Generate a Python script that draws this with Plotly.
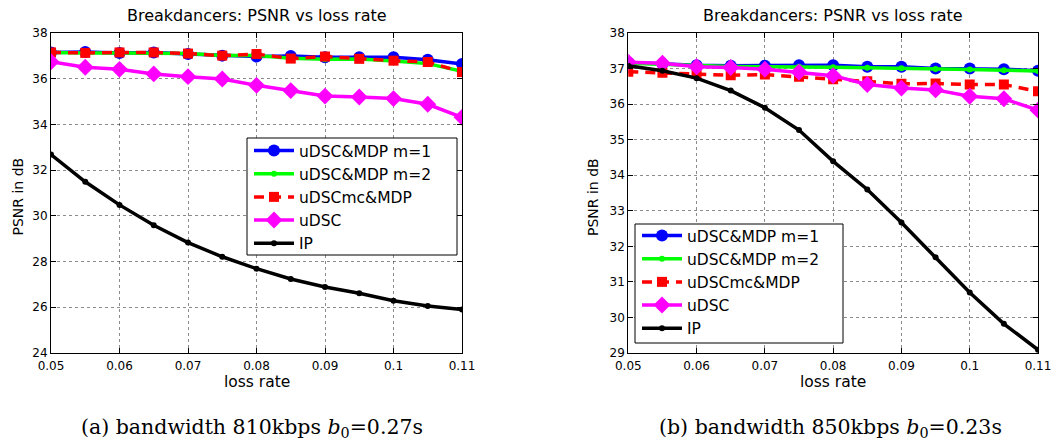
import plotly.graph_objects as go

W, H = 1053, 444

# loss-rate samples shared by both panels
loss_rate = [0.05, 0.055, 0.06, 0.065, 0.07, 0.075, 0.08, 0.085, 0.09, 0.095, 0.1, 0.105, 0.11]
x_tick_vals = [0.05, 0.06, 0.07, 0.08, 0.09, 0.1, 0.11]
x_tick_text = ["0.05", "0.06", "0.07", "0.08", "0.09", "0.1", "0.11"]

series_names = ["uDSC&MDP m=1", "uDSC&MDP m=2", "uDSCmc&MDP", "uDSC", "IP"]

# (a) bandwidth 810kbps, b0 = 0.27s
a_mdp_m1 = [37.15, 37.17, 37.12, 37.15, 37.08, 37.01, 36.97, 36.99, 36.94, 36.94, 36.94, 36.83, 36.64]
a_mdp_m2 = [37.15, 37.12, 37.13, 37.13, 37.10, 37.02, 37.02, 36.90, 36.85, 36.86, 36.78, 36.66, 36.33]
a_mc_mdp = [37.15, 37.13, 37.15, 37.15, 37.10, 37.01, 37.08, 36.88, 36.97, 36.87, 36.79, 36.73, 36.29]
a_udsc = [36.74, 36.50, 36.41, 36.21, 36.09, 35.99, 35.71, 35.48, 35.24, 35.20, 35.13, 34.88, 34.31]
a_ip = [32.68, 31.49, 30.48, 29.59, 28.83, 28.21, 27.69, 27.24, 26.89, 26.61, 26.29, 26.06, 25.90]

# (b) bandwidth 850kbps, b0 = 0.23s
b_mdp_m1 = [37.17, 37.13, 37.09, 37.08, 37.08, 37.09, 37.09, 37.05, 37.05, 37.00, 37.00, 36.98, 36.94]
b_mdp_m2 = [37.15, 37.12, 37.07, 37.06, 37.05, 37.05, 37.04, 37.02, 37.01, 36.99, 36.97, 36.95, 36.93]
b_mc_mdp = [36.91, 36.88, 36.85, 36.81, 36.83, 36.77, 36.70, 36.64, 36.57, 36.58, 36.55, 36.55, 36.36]
b_udsc = [37.18, 37.15, 37.05, 37.03, 36.98, 36.90, 36.80, 36.55, 36.45, 36.40, 36.22, 36.15, 35.83]
b_ip = [37.08, 36.94, 36.73, 36.38, 35.90, 35.27, 34.39, 33.60, 32.67, 31.69, 30.70, 29.82, 29.09]

a_y_ticks = [24, 26, 28, 30, 32, 34, 36, 38]
b_y_ticks = [29, 30, 31, 32, 33, 34, 35, 36, 37, 38]

panel_titles = ["Breakdancers: PSNR vs loss rate", "Breakdancers: PSNR vs loss rate"]
x_title = "loss rate"
y_title = "PSNR in dB"
captions = ["(a) bandwidth 810kbps <i>b</i><sub>0</sub>=0.27s",
            "(b) bandwidth 850kbps <i>b</i><sub>0</sub>=0.23s"]

styles = [
    dict(color="#0000ff", symbol="circle", size=12, dash="solid"),
    dict(color="#00ff00", symbol="circle", size=6, dash="solid"),
    dict(color="#ff0000", symbol="square", size=10, dash="10px,7px"),
    dict(color="#ff00ff", symbol="diamond", size=13, dash="solid"),
    dict(color="#000000", symbol="circle", size=6, dash="solid"),
]

SANS = "DejaVu Sans, sans-serif"

fig = go.Figure()

panels = [
    ("x", "y", "legend", [a_mdp_m1, a_mdp_m2, a_mc_mdp, a_udsc, a_ip]),
    ("x2", "y2", "legend2", [b_mdp_m1, b_mdp_m2, b_mc_mdp, b_udsc, b_ip]),
]
for xa, ya, leg, data in panels:
    for name, vals, st in zip(series_names, data, styles):
        fig.add_trace(go.Scatter(
            x=loss_rate, y=vals, name=name, mode="lines+markers",
            xaxis=xa, yaxis=ya, legend=leg,
            line=dict(color=st["color"], width=3.5, dash=st["dash"]),
            marker=dict(color=st["color"], symbol=st["symbol"], size=st["size"],
                        line=dict(width=0)),
        ))

axis_common = dict(
    automargin=False,
    showline=True, linecolor="black", linewidth=1, mirror="ticks",
    ticks="inside", ticklen=5, tickcolor="black",
    showgrid=True, gridcolor="rgba(0,0,0,0.45)", gridwidth=1, griddash="dot",
    zeroline=False, tickfont=dict(family=SANS, size=12, color="black"),
)

# legend frames (pixel boxes: left, top, right, bottom)
legend_boxes = [(247, 138, 457, 255), (635, 224, 843, 343)]

y_dom = [1 - 353 / H, 1 - 33 / H]
legend_common = dict(
    xanchor="left", yanchor="top", bgcolor="rgba(0,0,0,0)", borderwidth=0,
    font=dict(family=SANS, size=15.5, color="black"), itemwidth=40, tracegroupgap=0,
)
fig.update_layout(
    width=W, height=H, margin=dict(l=0, r=0, t=0, b=0, autoexpand=False),
    paper_bgcolor="white", plot_bgcolor="white",
    xaxis=dict(domain=[51 / W, 462 / W], range=[0.05, 0.11], ticklabelstandoff=2,
               tickvals=x_tick_vals, ticktext=x_tick_text, anchor="y", **axis_common),
    yaxis=dict(domain=y_dom, range=[24, 38], tickvals=a_y_ticks, anchor="x", **axis_common),
    xaxis2=dict(domain=[628.3 / W, 1038 / W], range=[0.05, 0.11], ticklabelstandoff=2,
                tickvals=x_tick_vals, ticktext=x_tick_text, anchor="y2", **axis_common),
    yaxis2=dict(domain=y_dom, range=[29, 38], tickvals=b_y_ticks, anchor="x2", **axis_common),
    legend=dict(x=249 / W, y=1 - 134 / H, **legend_common),
    legend2=dict(x=637 / W, y=1 - 219 / H, **legend_common),
)

for (l, t, r, b) in legend_boxes:
    fig.add_shape(type="rect", xref="paper", yref="paper",
                  x0=l / W, x1=r / W, y0=1 - b / H, y1=1 - t / H,
                  fillcolor="white", line=dict(color="black", width=1), layer="above")

anns = []
for cx, ylab_x, title in [(256.5, 17.5, panel_titles[0]), (833, 593, panel_titles[1])]:
    anns.append(dict(x=cx / W, y=1 - 16 / H, xref="paper", yref="paper", text=title,
                     showarrow=False, xanchor="center", yanchor="middle",
                     font=dict(family=SANS, size=16, color="black")))
    anns.append(dict(x=cx / W, y=1 - 382 / H, xref="paper", yref="paper", text=x_title,
                     showarrow=False, xanchor="center", yanchor="middle",
                     font=dict(family=SANS, size=15.5, color="black")))
    anns.append(dict(x=ylab_x / W, y=1 - 197 / H, xref="paper", yref="paper", text=y_title,
                     showarrow=False, xanchor="center", yanchor="middle", textangle=-90,
                     font=dict(family=SANS, size=14, color="black")))
for cap_x, cap in zip([252, 830], captions):
    anns.append(dict(x=cap_x / W, y=1 - 428 / H, xref="paper", yref="paper", text=cap,
                     showarrow=False, xanchor="center", yanchor="middle",
                     font=dict(family="DejaVu Serif, serif", size=20.5, color="black")))
fig.update_layout(annotations=anns)

fig.write_html("out.html")
